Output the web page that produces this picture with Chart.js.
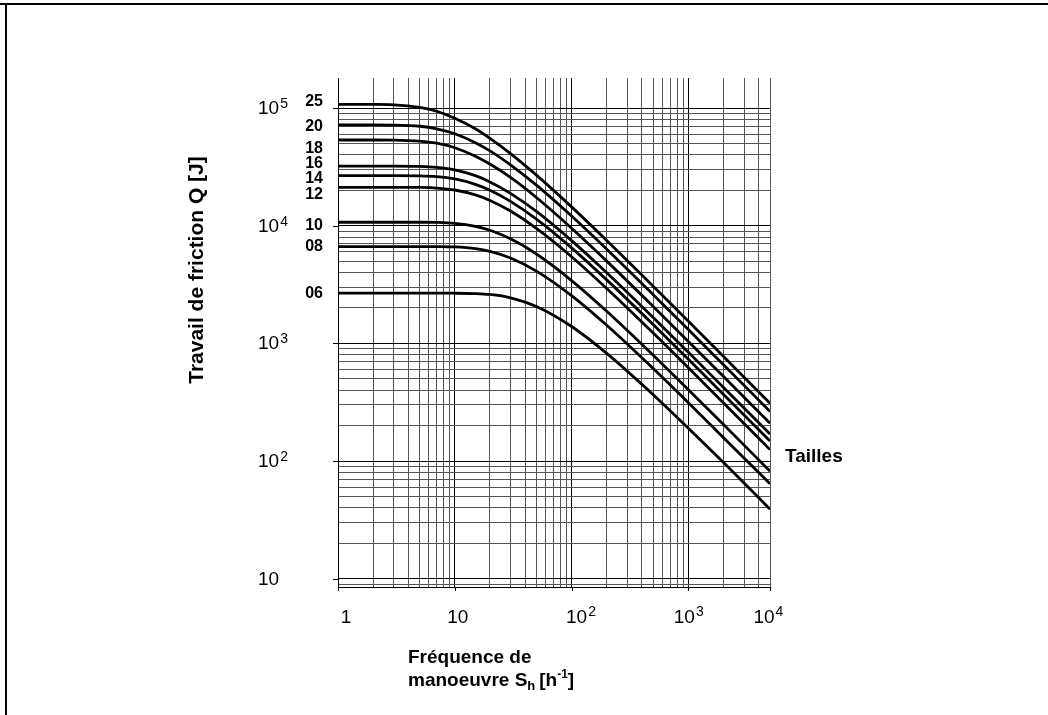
<!DOCTYPE html>
<html>
<head>
<meta charset="utf-8">
<script src="https://cdn.jsdelivr.net/npm/chart.js@4.4.0/dist/chart.umd.min.js"></script>
<style>
html, body { margin: 0; padding: 0; background: #fff; }
#wrap { width: 1048px; height: 715px; position: relative; }
</style>
</head>
<body>
<div id="wrap"><canvas id="frictionChart"></canvas></div>
<script>
// Frequence de manoeuvre S_h [1/h]
var frequencies = [1, 2, 3, 5, 7, 10, 15, 20, 30, 50, 100, 200, 500, 1000, 2000, 5000];

// Travail de friction Q [J], one list per size
var sizes = ['25', '20', '18', '16', '14', '12', '10', '08', '06'];
var work25 = [107400, 107300, 106500, 101100, 93900, 81900, 66600, 55200, 41000, 26900, 14450, 7480, 3060, 1545, 773, 310];
var work20 = [71800, 71800, 71600, 70000, 66600, 60400, 50700, 43200, 32900, 22100, 12070, 6310, 2594, 1309, 657, 264];
var work18 = [53500, 53500, 53400, 52400, 50250, 46000, 39000, 33400, 25700, 17350, 9520, 5000, 2057, 1038, 522, 209];
var work16 = [32100, 32100, 32100, 31940, 31370, 29830, 26610, 23570, 18830, 13210, 7470, 3984, 1657, 839, 422, 170];
var work14 = [26600, 26600, 26600, 26500, 26110, 24970, 22460, 20010, 16100, 11370, 6480, 3463, 1444, 732, 368, 148];
var work12 = [21200, 21200, 21200, 21140, 20900, 20110, 18270, 16400, 13320, 9500, 5450, 2926, 1223, 620, 312, 125];
var work10 = [10700, 10700, 10700, 10695, 10660, 10470, 9880, 9140, 7730, 5746, 3419, 1874, 793, 404, 204, 82];
var work08 = [6650, 6650, 6650, 6650, 6643, 6596, 6383, 6053, 5317, 4114, 2544, 1424, 611, 313, 158, 64];
var work06 = [2670, 2670, 2670, 2670, 2670, 2668, 2650, 2603, 2440, 2057, 1391, 822, 366, 190, 97, 39];
var series = [work25, work20, work18, work16, work14, work12, work10, work08, work06];

// tick labels: [base, exponent]
var xTickValues = [1, 10, 100, 1000, 5000];
var xTickLabels = [['1', ''], ['10', ''], ['10', '2'], ['10', '3'], ['10', '4']];
var yTickValues = [10, 100, 1000, 10000, 100000];
var yTickLabels = [['10', ''], ['10', '2'], ['10', '3'], ['10', '4'], ['10', '5']];

var X_MIN = 1, X_MAX = 5000, Y_MIN = 8.5, Y_MAX = 180000;

// label nudges (px) so the size numbers don't overlap
var sizeLabelNudge = [-3, 2, 9, -3, 3, 7, 3, 0, 0];
var xLabelNudge = [8, 3, 5, -4, -6];

var FONT = "'Liberation Sans', Arial, Helvetica, sans-serif";

function logGrid(min, max) {
    var out = [];
    for (var e = -1; e <= 6; e++) {
        for (var m = 1; m <= 9; m++) {
            var v = m * Math.pow(10, e);
            if (v >= min && v <= max * 1.0001) out.push({ value: v, major: m === 1 });
        }
    }
    return out;
}

function drawPow(ctx, base, exp, x, y, align, size, expSize, raise) {
    ctx.font = size + 'px ' + FONT;
    var wb = ctx.measureText(base).width;
    ctx.font = expSize + 'px ' + FONT;
    var we = exp ? ctx.measureText(exp).width + 1 : 0;
    var left = x;
    if (align === 'center') left = x - wb / 2;
    if (align === 'right') left = x - wb - we;
    ctx.textAlign = 'left';
    ctx.textBaseline = 'alphabetic';
    ctx.font = size + 'px ' + FONT;
    ctx.fillText(base, left, y);
    if (exp) {
        ctx.font = expSize + 'px ' + FONT;
        ctx.fillText(exp, left + wb + 1, y - raise);
    }
}

var decor = {
    id: 'decor',
    afterDraw: function (chart) {
        var ctx = chart.ctx, xs = chart.scales.x, ys = chart.scales.y;
        var area = chart.chartArea;
        ctx.save();
        ctx.fillStyle = '#000';
        ctx.strokeStyle = '#000';

        // page frame (top and left)
        ctx.lineWidth = 2;
        ctx.beginPath();
        ctx.moveTo(0, 4); ctx.lineTo(1048, 4);
        ctx.moveTo(6, 4); ctx.lineTo(6, 715);
        ctx.stroke();

        // decade ticks
        ctx.lineWidth = 1;
        ctx.beginPath();
        yTickValues.forEach(function (v) {
            var py = Math.round(ys.getPixelForValue(v)) + 0.5;
            ctx.moveTo(area.left - 5, py); ctx.lineTo(area.left, py);
        });
        xTickValues.forEach(function (v) {
            var px = Math.round(xs.getPixelForValue(v)) + 0.5;
            ctx.moveTo(px, area.bottom); ctx.lineTo(px, area.bottom + 4);
        });
        ctx.stroke();

        // y tick labels
        yTickValues.forEach(function (v, i) {
            var py = ys.getPixelForValue(v);
            drawPow(ctx, yTickLabels[i][0], yTickLabels[i][1], 258, py + 6, 'left', 19, 14, 6);
        });
        // x tick labels
        xTickValues.forEach(function (v, i) {
            var px = xs.getPixelForValue(v) + xLabelNudge[i];
            drawPow(ctx, xTickLabels[i][0], xTickLabels[i][1], px, 623, 'center', 19, 14, 7);
        });

        // size labels at the start of each curve
        ctx.font = 'bold 16px ' + FONT;
        ctx.textAlign = 'right';
        ctx.textBaseline = 'middle';
        series.forEach(function (s, i) {
            var py = ys.getPixelForValue(s[0]) + sizeLabelNudge[i];
            ctx.fillText(sizes[i], 323, py);
        });

        // Tailles
        ctx.font = 'bold 19px ' + FONT;
        ctx.textAlign = 'left';
        ctx.textBaseline = 'alphabetic';
        ctx.fillText('Tailles', 785, 462);

        // y title
        ctx.save();
        ctx.translate(203, 270);
        ctx.rotate(-Math.PI / 2);
        ctx.textAlign = 'center';
        ctx.font = 'bold 21px ' + FONT;
        ctx.fillText('Travail de friction Q [J]', 0, 0);
        ctx.restore();

        // x title, two lines with sub/superscripts
        var tx = 408;
        ctx.textAlign = 'left';
        ctx.font = 'bold 19px ' + FONT;
        ctx.fillText('Fréquence de', tx, 663);
        var t1 = 'manoeuvre S';
        ctx.fillText(t1, tx, 686);
        tx += ctx.measureText(t1).width;
        ctx.font = 'bold 13px ' + FONT;
        ctx.fillText('h', tx, 690);
        tx += ctx.measureText('h').width + 4;
        ctx.font = 'bold 19px ' + FONT;
        ctx.fillText('[h', tx, 686);
        tx += ctx.measureText('[h').width;
        ctx.font = 'bold 12px ' + FONT;
        ctx.fillText('-1', tx, 678);
        tx += ctx.measureText('-1').width;
        ctx.font = 'bold 19px ' + FONT;
        ctx.fillText(']', tx, 686);

        ctx.restore();
    }
};

var datasets = series.map(function (s, i) {
    return {
        label: sizes[i],
        data: frequencies.map(function (f, j) { return { x: f, y: s[j] }; }),
        borderColor: '#000',
        borderWidth: 2.8,
        pointRadius: 0,
        fill: false,
        cubicInterpolationMode: 'monotone'
    };
});

function gridColor(c) { return c.tick && c.tick.major ? '#000' : '#555'; }

var ctx = document.getElementById('frictionChart').getContext('2d');
var chart = new Chart(ctx, {
    type: 'line',
    data: { datasets: datasets },
    options: {
        responsive: true,
        maintainAspectRatio: false,
        animation: false,
        layout: { padding: { left: 338, right: 278, top: 78, bottom: 128 } },
        plugins: { legend: { display: false }, tooltip: { enabled: false } },
        scales: {
            x: {
                type: 'logarithmic',
                min: X_MIN, max: X_MAX,
                afterBuildTicks: function (axis) { axis.ticks = logGrid(X_MIN, X_MAX); },
                ticks: { display: false },
                grid: { color: gridColor, lineWidth: 1, drawTicks: false },
                border: { display: true, color: '#000', width: 1 }
            },
            y: {
                type: 'logarithmic',
                min: Y_MIN, max: Y_MAX,
                afterBuildTicks: function (axis) { axis.ticks = logGrid(Y_MIN, Y_MAX); },
                ticks: { display: false },
                grid: { color: gridColor, lineWidth: 1, drawTicks: false },
                border: { display: true, color: '#000', width: 1 }
            }
        }
    },
    plugins: [decor]
});
</script>
</body>
</html>
